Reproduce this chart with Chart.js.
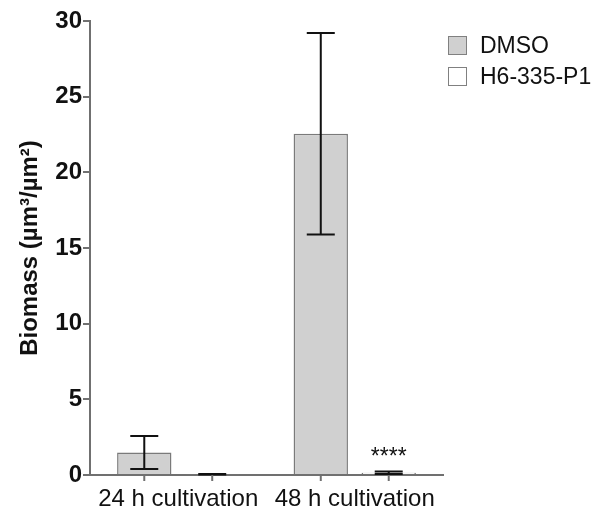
<!DOCTYPE html>
<html>
<head>
<meta charset="utf-8">
<script src="https://cdn.jsdelivr.net/npm/chart.js@4.4.1/dist/chart.umd.min.js"></script>
<style>
  html, body { margin: 0; padding: 0; background: #fff; }
  #wrap { width: 595px; height: 513px; position: relative; }
</style>
</head>
<body>
<div id="wrap"><canvas id="biomassChart"></canvas></div>
<script>
const FONT = '"Liberation Sans", Arial, sans-serif';

// data
const categories = ['24 h cultivation', '48 h cultivation'];
const dmsoMean = [1.49, 22.55];
const dmsoSd = [1.09, 6.65];
const h6Mean = [0.05, 0.15];
const h6Sd = [0.02, 0.08];
const significance = ['', '****']; // for H6-335-P1 vs DMSO
const yTicks = [0, 5, 10, 15, 20, 25, 30];

const sdByDataset = [dmsoSd, h6Sd];

// error bars, x tick marks under each bar, stars, legend
const extrasPlugin = {
    id: 'extras',
    afterDatasetsDraw(chart) {
        const ctx = chart.ctx;
        const y = chart.scales.y;
        const area = chart.chartArea;

        ctx.save();
        chart.data.datasets.forEach((ds, di) => {
            const meta = chart.getDatasetMeta(di);
            meta.data.forEach((bar, i) => {
                const mean = ds.data[i];
                const sd = sdByDataset[di][i];
                const top = y.getPixelForValue(mean + sd);
                const bot = y.getPixelForValue(Math.max(mean - sd, 0));
                const half = 14;
                ctx.strokeStyle = '#111';
                ctx.lineWidth = 2;
                ctx.beginPath();
                ctx.moveTo(bar.x, top);
                ctx.lineTo(bar.x, bot);
                ctx.moveTo(bar.x - half, top);
                ctx.lineTo(bar.x + half, top);
                ctx.moveTo(bar.x - half, bot);
                ctx.lineTo(bar.x + half, bot);
                ctx.stroke();

                // tick mark on x axis
                ctx.strokeStyle = '#707070';
                ctx.lineWidth = 2;
                ctx.beginPath();
                ctx.moveTo(bar.x, area.bottom);
                ctx.lineTo(bar.x, area.bottom + 6);
                ctx.stroke();

                if (di === 1 && significance[i]) {
                    ctx.fillStyle = '#111';
                    ctx.font = '23px ' + FONT;
                    ctx.textAlign = 'center';
                    ctx.textBaseline = 'alphabetic';
                    ctx.fillText(significance[i], bar.x, top - 8);
                }
            });
        });

        // legend
        const lx = 448, ly = 36, box = 19, gap = 31;
        chart.data.datasets.forEach((ds, di) => {
            const by = ly + di * gap;
            ctx.fillStyle = ds.backgroundColor;
            ctx.fillRect(lx, by, box, box);
            ctx.strokeStyle = '#808080';
            ctx.lineWidth = 1;
            ctx.strokeRect(lx + 0.5, by + 0.5, box - 1, box - 1);
            ctx.fillStyle = '#111';
            ctx.font = '23px ' + FONT;
            ctx.textAlign = 'left';
            ctx.textBaseline = 'middle';
            ctx.fillText(ds.label, lx + 32, by + box / 2 + 1);
        });
        ctx.restore();
    }
};

new Chart(document.getElementById('biomassChart'), {
    type: 'bar',
    data: {
        labels: categories,
        datasets: [{
            label: 'DMSO',
            data: dmsoMean,
            backgroundColor: '#d0d0d0',
            borderColor: '#7a7a7a',
            borderWidth: 1.5,
            categoryPercentage: 0.77,
            barPercentage: 0.8
        }, {
            label: 'H6-335-P1',
            data: h6Mean,
            backgroundColor: '#ffffff',
            borderColor: '#7a7a7a',
            borderWidth: 1.5,
            categoryPercentage: 0.77,
            barPercentage: 0.8
        }]
    },
    options: {
        responsive: true,
        maintainAspectRatio: false,
        animation: false,
        layout: { padding: { left: 0, right: 152, top: 21, bottom: 0 } },
        plugins: {
            legend: { display: false },
            tooltip: { enabled: false }
        },
        scales: {
            x: {
                grid: { display: false, drawTicks: false },
                border: { color: '#707070', width: 2 },
                ticks: {
                    color: '#111',
                    padding: 10,
                    font: { family: FONT, size: 24 }
                },
                afterFit(scale) { scale.height = 38; }
            },
            y: {
                min: 0,
                max: 30,
                afterBuildTicks(scale) { scale.ticks = yTicks.map(v => ({ value: v })); },
                grid: { drawOnChartArea: false, drawTicks: true, tickLength: 7, color: '#707070', lineWidth: 2 },
                border: { color: '#707070', width: 2 },
                ticks: {
                    color: '#111',
                    padding: 1,
                    font: { family: FONT, size: 24, weight: 'bold' }
                },
                title: {
                    display: true,
                    text: 'Biomass (µm³/µm²)',
                    color: '#111',
                    padding: { top: 16, bottom: 0 },
                    font: { family: FONT, size: 24, weight: 'bold' }
                },
                afterFit(scale) { scale.width = 90; }
            }
        }
    },
    plugins: [extrasPlugin]
});
</script>
</body>
</html>
